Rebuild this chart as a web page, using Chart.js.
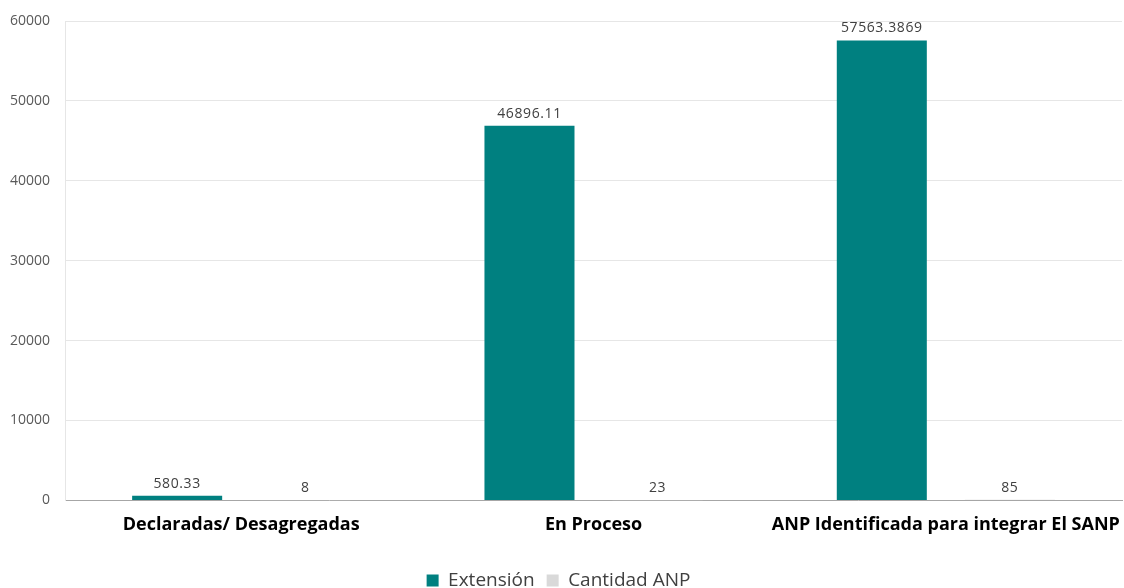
<!DOCTYPE html>
<html>
<head>
<meta charset="utf-8">
<script src="https://cdn.jsdelivr.net/npm/chart.js@4"></script>
<style>
  html, body { margin: 0; padding: 0; background: #ffffff; }
  #wrap { width: 1124px; height: 588px; position: relative; }
</style>
</head>
<body>
<div id="wrap"><canvas id="c"></canvas></div>
<script>
const categories = ['Declaradas/ Desagregadas', 'En Proceso', 'ANP Identificada para integrar El SANP'];
const extension = [580.33, 46896.11, 57563.3869];
const cantidadANP = [8, 23, 85];
const seriesNames = ['Extensión', 'Cantidad ANP'];
const yTicks = [0, 10000, 20000, 30000, 40000, 50000, 60000];

const FONT = '"Open Sans", "Noto Sans", sans-serif';

// Prints each bar's value just above it
const valueLabels = {
  id: 'valueLabels',
  afterDatasetsDraw(chart) {
    const ctx = chart.ctx;
    ctx.save();
    ctx.font = '14px ' + FONT;
    ctx.letterSpacing = '0.6px';
    ctx.fillStyle = '#404040';
    ctx.textAlign = 'center';
    ctx.textBaseline = 'bottom';
    chart.data.datasets.forEach((ds, i) => {
      chart.getDatasetMeta(i).data.forEach((bar, j) => {
        ctx.fillText(String(ds.data[j]), bar.x, bar.y - 5);
      });
    });
    ctx.restore();
  }
};

new Chart(document.getElementById('c'), {
  type: 'bar',
  data: {
    labels: categories,
    datasets: [
      { label: seriesNames[0], data: extension, backgroundColor: '#008080',
        categoryPercentage: 0.727, barPercentage: 0.703 },
      { label: seriesNames[1], data: cantidadANP, backgroundColor: '#d9d9d9',
        categoryPercentage: 0.727, barPercentage: 0.703 }
    ]
  },
  options: {
    responsive: true,
    maintainAspectRatio: false,
    animation: false,
    layout: { padding: { top: 21, right: 2, left: -5, bottom: -12 } },
    plugins: {
      legend: {
        position: 'bottom',
        labels: {
          font: { family: FONT, size: 19 },
          color: '#404040',
          boxWidth: 12,
          boxHeight: 12,
          padding: 12
        }
      },
      tooltip: { enabled: false }
    },
    scales: {
      x: {
        grid: { display: false, drawTicks: false },
        border: { color: '#a6a6a6', width: 1 },
        afterFit(scale) {
          scale.height += 9;
          scale.paddingLeft = 0;
          scale.paddingRight = 0;
        },
        ticks: {
          font: { family: FONT, size: 18, weight: 'bold' },
          color: '#000000',
          padding: 14,
          maxRotation: 0,
          autoSkip: false
        }
      },
      y: {
        min: 0,
        max: 60000,
        afterBuildTicks(axis) { axis.ticks = yTicks.map(v => ({ value: v })); },
        afterFit(scale) {
          scale.paddingTop = 0;
          scale.paddingBottom = 0;
        },
        grid: { color: '#e6e6e6', drawTicks: false },
        border: { color: '#e6e6e6', width: 1 },
        ticks: {
          font: { family: FONT, size: 14 },
          color: '#595959',
          padding: 15,
          callback: v => String(v)
        }
      }
    }
  },
  plugins: [valueLabels]
});
</script>
</body>
</html>
